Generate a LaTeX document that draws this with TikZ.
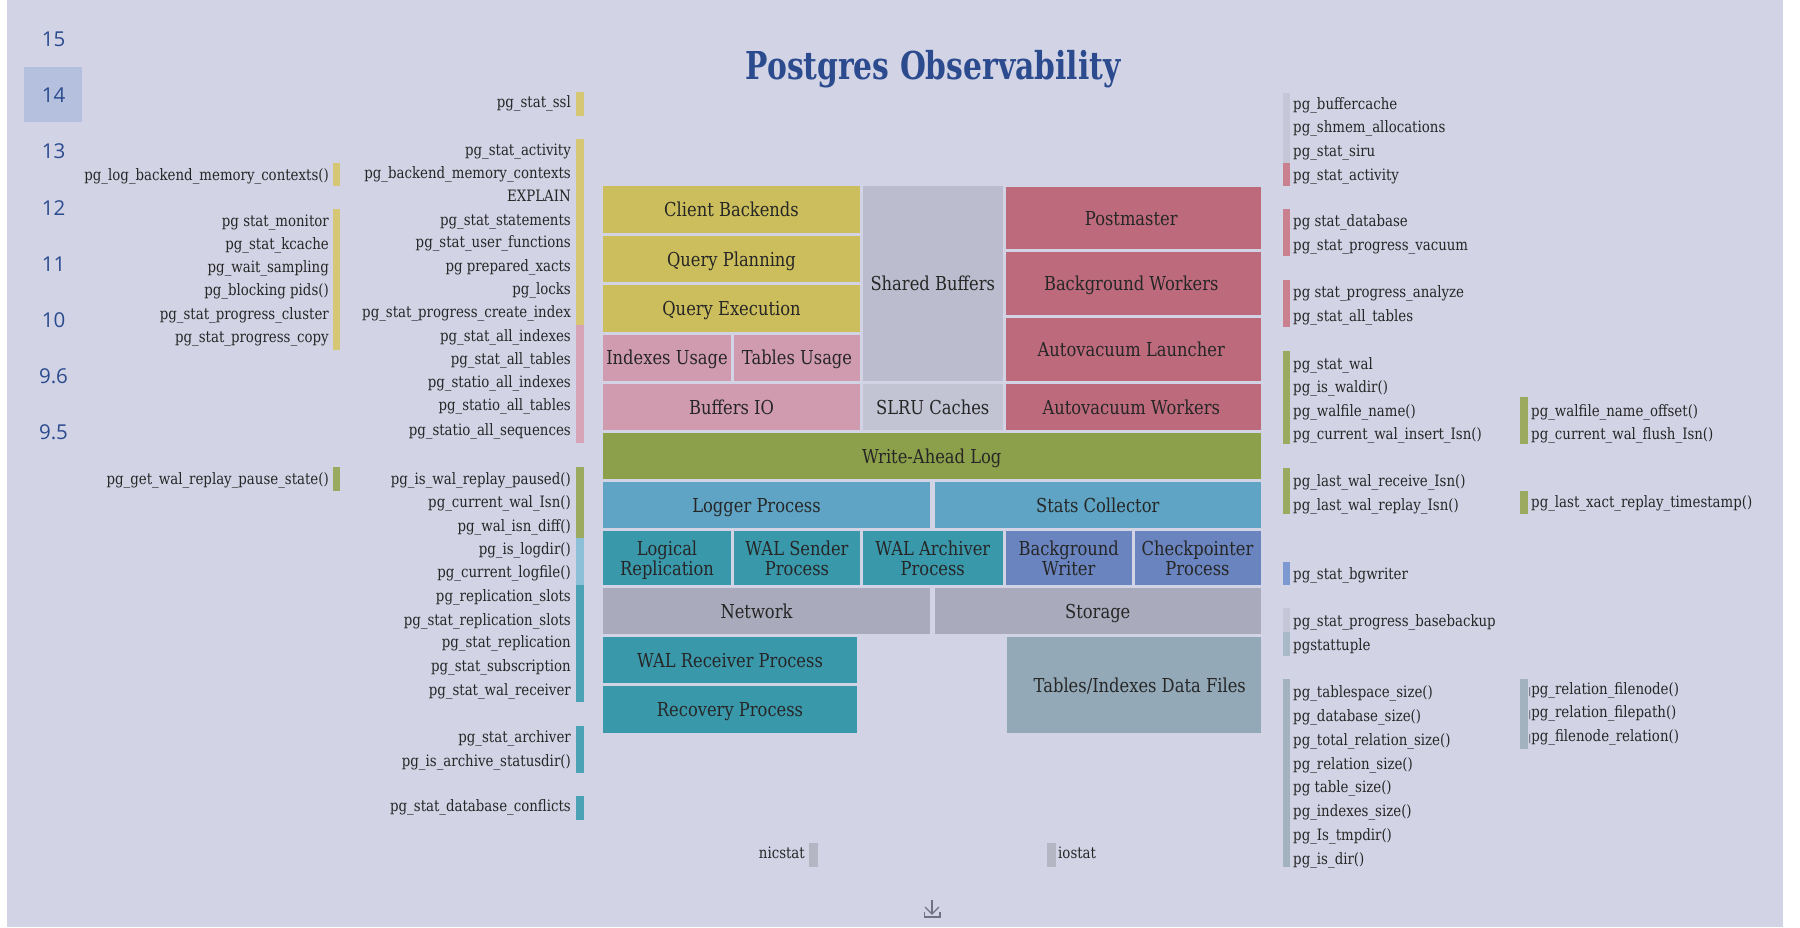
\documentclass[tikz,border=0pt]{standalone}
\usepackage{fontspec}
\setmainfont{DejaVu Serif}[FakeStretch=0.85]
\newfontfamily\titlefont{DejaVu Serif}[FakeStretch=0.775]
\newfontfamily\numfont{Open Sans}
\definecolor{bg}{HTML}{D2D4E6}
\definecolor{txt}{HTML}{262626}
\definecolor{ttl}{HTML}{2B4B8E}
\definecolor{hl}{HTML}{B5C0DE}
\definecolor{yelB}{HTML}{CCBE5C}
\definecolor{pinkB}{HTML}{D09BAE}
\definecolor{sbB}{HTML}{BBBCCD}
\definecolor{slruB}{HTML}{C2C3D3}
\definecolor{redB}{HTML}{BD6B7C}
\definecolor{oliveB}{HTML}{8C9F4A}
\definecolor{logB}{HTML}{5FA4C4}
\definecolor{tealB}{HTML}{3A98AB}
\definecolor{blueB}{HTML}{6984BE}
\definecolor{netB}{HTML}{A9AABB}
\definecolor{filesB}{HTML}{93A9B7}
\definecolor{yelbar}{HTML}{D5C773}
\definecolor{pinkbar}{HTML}{D7A3B7}
\definecolor{redbar}{HTML}{C9818F}
\definecolor{olivebar}{HTML}{9BAA5E}
\definecolor{lbluebar}{HTML}{8CBFD8}
\definecolor{tealbar}{HTML}{4AA2B4}
\definecolor{bluebar}{HTML}{7C99D2}
\definecolor{graybar}{HTML}{C5C6D6}
\definecolor{filesbar}{HTML}{A2B2BF}
\definecolor{tuplebar}{HTML}{A8BAC8}
\definecolor{statbar}{HTML}{B5B6C4}
\definecolor{iconc}{HTML}{707282}
\tikzset{
  blk/.style={inner sep=0pt, outer sep=0pt},
  btxt/.style={inner sep=0pt, text height=14pt, text depth=0pt, text=txt,
    font=\fontsize{19.2}{20.5}\selectfont},
  lbl/.style={inner sep=0pt, text=txt, yshift=-2.5pt, font=\fontsize{15.7}{16}\selectfont},
  lblL/.style={lbl, anchor=mid east},
  lblR/.style={lbl, anchor=mid west},
  ver/.style={inner sep=0pt, text=ttl, font=\fontsize{20.5}{21}\numfont},
  icon/.style={draw=iconc, line width=1.2pt},
}
% block: name, x1, y1, x2, y2, colour, text x-offset, text
\newcommand\pgb[8]{%
  \pgfmathsetmacro\bcx{(#2+#4)/2}%
  \pgfmathsetmacro\bcy{(#3+#5)/2}%
  \pgfmathsetmacro\bww{#4-#2}%
  \pgfmathsetmacro\bhh{#5-#3}%
  \node[blk, fill=#6, minimum width=\bww pt, minimum height=\bhh pt] (#1) at (\bcx,\bcy) {};
  \node[btxt] (#1t) at ([xshift=#7pt]#1.center) {#8};}
% two-line block: name, x1, y1, x2, y2, colour, line 1, line 2
\newcommand\pgbb[8]{%
  \pgfmathsetmacro\bcx{(#2+#4)/2}%
  \pgfmathsetmacro\bcy{(#3+#5)/2}%
  \pgfmathsetmacro\bww{#4-#2}%
  \pgfmathsetmacro\bhh{#5-#3}%
  \node[blk, fill=#6, minimum width=\bww pt, minimum height=\bhh pt] (#1) at (\bcx,\bcy) {};
  \node[btxt] (#1a) at ([yshift=9.75pt]#1.center) {#7};
  \node[btxt] (#1b) at ([yshift=-10.95pt]#1.center) {#8};}
\newcommand\pgbar[5]{\fill[#5] (#1,#2) rectangle (#3,#4);}
\begin{document}
\begin{tikzpicture}[x=1pt,y=-1pt]
\useasboundingbox (0,0) rectangle (1800,927);
\fill[white] (0,0) rectangle (1800,927);
\fill[bg] (7,0) rectangle (1783,927);
% title
\node[font=\fontsize{38.4}{40}\titlefont\bfseries, text=ttl, anchor=base, inner sep=0pt] (title) at (933,79) {Postgres Observability};
% versions
\fill[hl] (24,67) rectangle (81.5,122);
\node[ver] (v15) at (53.5,39) {15};
\node[ver] (v14) at (53.5,95) {14};
\node[ver] (v13) at (53.5,151) {13};
\node[ver] (v12) at (53.5,208) {12};
\node[ver] (v11) at (53.5,264) {11};
\node[ver] (v10) at (53.5,320) {10};
\node[ver] (v96) at (53.5,376) {9.6};
\node[ver] (v95) at (53.5,432) {9.5};
% blocks
\pgb{cb}{603}{186}{860}{233}{yelB}{0}{Client Backends}
\pgb{qp}{603}{236}{860}{282}{yelB}{0}{Query Planning}
\pgb{qe}{603}{285}{860}{332}{yelB}{0}{Query Execution}
\pgb{iu}{603}{334.5}{731}{381}{pinkB}{0}{Indexes Usage}
\pgb{tu}{734}{334.5}{860}{381}{pinkB}{0}{Tables Usage}
\pgb{bio}{603}{384}{860}{430}{pinkB}{0}{Buffers IO}
\pgb{sb}{862.5}{186}{1003}{381}{sbB}{0}{Shared Buffers}
\pgb{slru}{862.5}{384}{1003}{430}{slruB}{0}{SLRU Caches}
\pgb{pm}{1006}{187}{1260.5}{249}{redB}{-2}{Postmaster}
\pgb{bw}{1006}{252}{1260.5}{315}{redB}{-2}{Background Workers}
\pgb{al}{1006}{318}{1260.5}{381}{redB}{-2}{Autovacuum Launcher}
\pgb{aw}{1006}{384}{1260.5}{430}{redB}{-2}{Autovacuum Workers}
\pgb{wal}{603}{433}{1260.5}{479}{oliveB}{0}{Write-Ahead Log}
\pgb{lp}{603}{482}{930}{528}{logB}{-10}{Logger Process}
\pgb{sc}{935}{482}{1260.5}{528}{logB}{0}{Stats Collector}
\pgbb{lr}{603}{531}{731}{585}{tealB}{Logical}{Replication}
\pgbb{ws}{734}{531}{860}{585}{tealB}{WAL Sender}{Process}
\pgbb{wa}{862.5}{531}{1003}{585}{tealB}{WAL Archiver}{Process}
\pgbb{bgw}{1006}{531}{1131.5}{585}{blueB}{Background}{Writer}
\pgbb{cp}{1134.5}{531}{1260.5}{585}{blueB}{Checkpointer}{Process}
\pgb{net}{603}{588}{930}{634}{netB}{-10}{Network}
\pgb{sto}{935}{588}{1260.5}{634}{netB}{0}{Storage}
\pgb{wr}{603}{637}{857}{683}{tealB}{0}{WAL Receiver Process}
\pgb{rp}{603}{686}{857}{733}{tealB}{0}{Recovery Process}
\pgb{tf}{1007}{637}{1260.5}{733}{filesB}{6}{Tables/Indexes Data Files}
% ---- far-left labels
\pgbar{333}{163}{340}{186}{yelbar}
\pgbar{333}{209.3}{340}{350}{yelbar}
\pgbar{333}{467}{340}{490.7}{olivebar}
\node[lblL] (fl1) at (329,175) {pg\_log\_backend\_memory\_contexts()};
\node[lblL] (fl2) at (329,221.7) {pg stat\_monitor};
\node[lblL] (fl3) at (329,244.3) {pg\_stat\_kcache};
\node[lblL] (fl4) at (329,267.7) {pg\_wait\_sampling};
\node[lblL] (fl5) at (329,290.7) {pg\_blocking pids()};
\node[lblL] (fl6) at (329,314) {pg\_stat\_progress\_cluster};
\node[lblL] (fl7) at (329,337.3) {pg\_stat\_progress\_copy};
\node[lblL] (fl8) at (329,479.3) {pg\_get\_wal\_replay\_pause\_state()};
% ---- left labels
\pgbar{576}{92}{583.5}{116}{yelbar}
\pgbar{576}{139}{583.5}{325}{yelbar}
\pgbar{576}{325}{583.5}{443}{pinkbar}
\pgbar{576}{467}{583.5}{538}{olivebar}
\pgbar{576}{538}{583.5}{585}{lbluebar}
\pgbar{576}{585}{583.5}{702}{tealbar}
\pgbar{576}{726}{583.5}{772.7}{tealbar}
\pgbar{576}{796}{583.5}{820}{tealbar}
\node[lblL] (l1) at (571,102.7) {pg\_stat\_ssl};
\node[lblL] (l2) at (571,150.7) {pg\_stat\_activity};
\node[lblL] (l3) at (571,173.3) {pg\_backend\_memory\_contexts};
\node[lblL] (l4) at (571,196.7) {EXPLAIN};
\node[lblL] (l5) at (571,220) {pg\_stat\_statements};
\node[lblL] (l6) at (571,242.7) {pg\_stat\_user\_functions};
\node[lblL] (l7) at (571,266.7) {pg prepared\_xacts};
\node[lblL] (l8) at (571,289.3) {pg\_locks};
\node[lblL] (l9) at (571,312.7) {pg\_stat\_progress\_create\_index};
\node[lblL] (l10) at (571,336.7) {pg\_stat\_all\_indexes};
\node[lblL] (l11) at (571,359.3) {pg\_stat\_all\_tables};
\node[lblL] (l12) at (571,382.7) {pg\_statio\_all\_indexes};
\node[lblL] (l13) at (571,405.7) {pg\_statio\_all\_tables};
\node[lblL] (l14) at (571,430) {pg\_statio\_all\_sequences};
\node[lblL] (l15) at (571,479.3) {pg\_is\_wal\_replay\_paused()};
\node[lblL] (l16) at (571,502.7) {pg\_current\_wal\_Isn()};
\node[lblL] (l17) at (571,526) {pg\_wal\_isn\_diff()};
\node[lblL] (l18) at (571,549.3) {pg\_is\_logdir()};
\node[lblL] (l19) at (571,572.7) {pg\_current\_logfile()};
\node[lblL] (l20) at (571,596) {pg\_replication\_slots};
\node[lblL] (l21) at (571,620) {pg\_stat\_replication\_slots};
\node[lblL] (l22) at (571,642.7) {pg\_stat\_replication};
\node[lblL] (l23) at (571,666.7) {pg\_stat\_subscription};
\node[lblL] (l24) at (571,690) {pg\_stat\_wal\_receiver};
\node[lblL] (l25) at (571,737.3) {pg\_stat\_archiver};
\node[lblL] (l26) at (571,761) {pg\_is\_archive\_statusdir()};
\node[lblL] (l27) at (571,806) {pg\_stat\_database\_conflicts};
% ---- right labels, column 1
\pgbar{1283}{92.7}{1290}{162.7}{graybar}
\pgbar{1283}{162.7}{1290}{186}{redbar}
\pgbar{1283}{209.3}{1290}{256}{redbar}
\pgbar{1283}{280}{1290}{326.7}{redbar}
\pgbar{1283}{350.7}{1290}{444}{olivebar}
\pgbar{1283}{467.7}{1290}{514.3}{olivebar}
\pgbar{1283}{561.7}{1290}{585}{bluebar}
\pgbar{1283}{608.3}{1290}{631.7}{graybar}
\pgbar{1283}{631.7}{1290}{655.7}{tuplebar}
\pgbar{1283}{679.3}{1290}{866.7}{filesbar}
\node[lblR] (r1) at (1293,104) {pg\_buffercache};
\node[lblR] (r2) at (1293,127.7) {pg\_shmem\_allocations};
\node[lblR] (r3) at (1293,151) {pg\_stat\_siru};
\node[lblR] (r4) at (1293,175) {pg\_stat\_activity};
\node[lblR] (r5) at (1293,221.7) {pg stat\_database};
\node[lblR] (r6) at (1293,245.7) {pg\_stat\_progress\_vacuum};
\node[lblR] (r7) at (1293,292.7) {pg stat\_progress\_analyze};
\node[lblR] (r8) at (1293,316.7) {pg\_stat\_all\_tables};
\node[lblR] (r9) at (1293,364) {pg\_stat\_wal};
\node[lblR] (r10) at (1293,387.7) {pg\_is\_waldir()};
\node[lblR] (r11) at (1293,411) {pg\_walfile\_name()};
\node[lblR] (r12) at (1293,434.3) {pg\_current\_wal\_insert\_Isn()};
\node[lblR] (r13) at (1293,481.7) {pg\_last\_wal\_receive\_Isn()};
\node[lblR] (r14) at (1293,505.7) {pg\_last\_wal\_replay\_Isn()};
\node[lblR] (r15) at (1293,574.3) {pg\_stat\_bgwriter};
\node[lblR] (r16) at (1293,621.7) {pg\_stat\_progress\_basebackup};
\node[lblR] (r17) at (1293,645.7) {pgstattuple};
\node[lblR] (r18) at (1293,692.7) {pg\_tablespace\_size()};
\node[lblR] (r19) at (1293,716.7) {pg\_database\_size()};
\node[lblR] (r20) at (1293,740) {pg\_total\_relation\_size()};
\node[lblR] (r21) at (1293,764) {pg\_relation\_size()};
\node[lblR] (r22) at (1293,787.7) {pg table\_size()};
\node[lblR] (r23) at (1293,811) {pg\_indexes\_size()};
\node[lblR] (r24) at (1293,835) {pg\_Is\_tmpdir()};
\node[lblR] (r25) at (1293,859) {pg\_is\_dir()};
% ---- right labels, column 2
\pgbar{1520}{397.3}{1527.6}{444}{olivebar}
\pgbar{1520}{491}{1527.6}{514.3}{olivebar}
\pgbar{1520}{679.3}{1527.6}{749.3}{filesbar}
\node[lblR] (s1) at (1531,411) {pg\_walfile\_name\_offset()};
\node[lblR] (s2) at (1531,434.3) {pg\_current\_wal\_flush\_Isn()};
\node[lblR] (s3) at (1531,502.7) {pg\_last\_xact\_replay\_timestamp()};
\node[lblR] (s4) at (1528.5,689.3) {{\fontsize{9}{9}\selectfont|}pg\_relation\_filenode()};
\node[lblR] (s5) at (1528.5,712.7) {{\fontsize{9}{9}\selectfont|}pg\_relation\_filepath()};
\node[lblR] (s6) at (1528.5,736) {{\fontsize{9}{9}\selectfont|}pg\_filenode\_relation()};
% ---- bottom
\pgbar{809}{843}{818}{867}{statbar}
\pgbar{1047}{843}{1056}{867}{statbar}
\node[lblL] (nic) at (805,853) {nicstat};
\node[lblR] (io) at (1058,853) {iostat};
% download icon
\draw[icon] (932,899.5) -- (932,913.5);
\draw[icon] (925,907) -- (932,914) -- (939,907);
\draw[icon] (924.5,911.5) -- (924.5,917) -- (940,917) -- (940,911.5);
\end{tikzpicture}
\end{document}
